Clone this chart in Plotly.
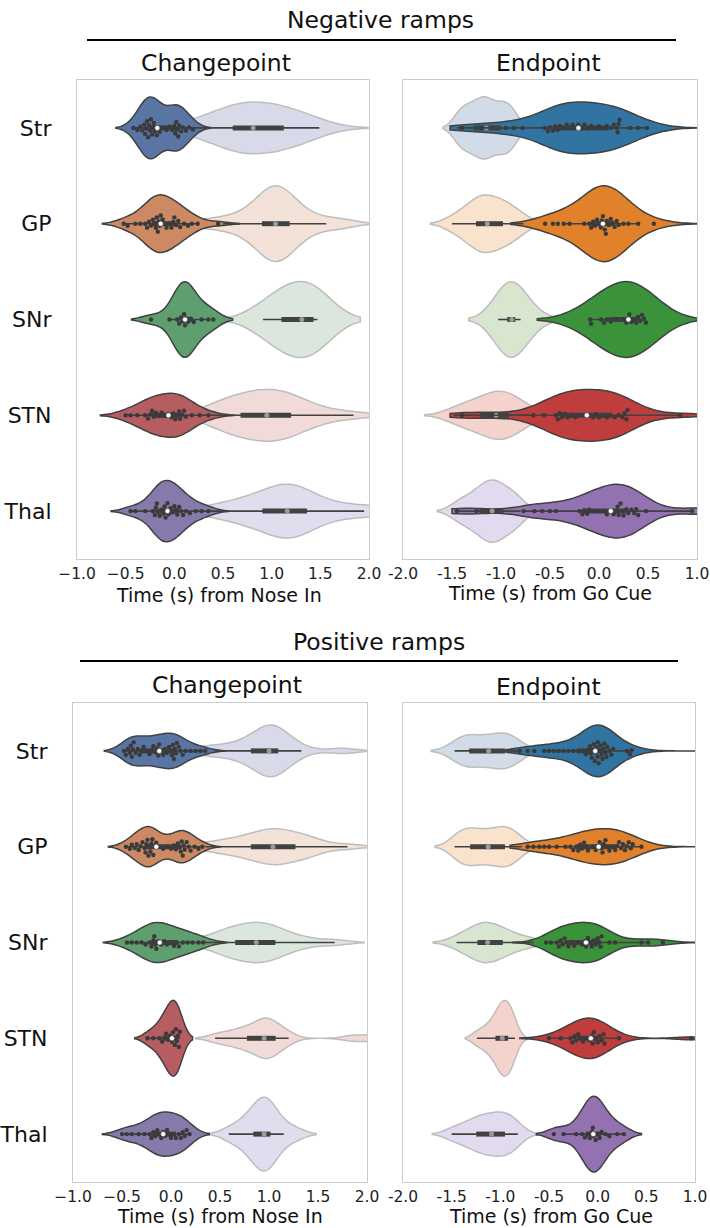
import colorsys
import numpy as np
import plotly.graph_objects as go

# ---------------- data ----------------
regions = ["Str", "GP", "SNr", "STN", "Thal"]

# Negative ramps, changepoint (s from Nose In): shown units / other epoch
neg_cp_units = [
    [-0.42, -0.38, -0.35, -0.33, -0.31, -0.30, -0.29, -0.28, -0.27, -0.26, -0.25, -0.24, -0.23, -0.22, -0.21, -0.20, -0.18, -0.17, -0.15, -0.12, -0.08, -0.05, -0.02, 0.00, 0.01, 0.02, 0.03, 0.04, 0.05, 0.07, 0.09, 0.12, 0.15, 0.19],
    [-0.52, -0.48, -0.40, -0.35, -0.30, -0.28, -0.26, -0.24, -0.22, -0.20, -0.19, -0.18, -0.17, -0.16, -0.15, -0.14, -0.12, -0.10, -0.08, -0.05, -0.03, -0.01, 0.00, 0.02, 0.04, 0.06, 0.10, 0.14, 0.18, 0.24, 0.45],
    [-0.24, -0.05, 0.03, 0.05, 0.07, 0.09, 0.10, 0.11, 0.12, 0.14, 0.17, 0.20, 0.28, 0.35, 0.40],
    [-0.50, -0.45, -0.38, -0.30, -0.27, -0.25, -0.23, -0.21, -0.19, -0.16, -0.13, -0.10, -0.06, -0.03, -0.01, 0.01, 0.03, 0.05, 0.06, 0.08, 0.10, 0.12, 0.18, 0.26, 0.35],
    [-0.45, -0.40, -0.30, -0.22, -0.20, -0.19, -0.18, -0.17, -0.15, -0.13, -0.11, -0.10, -0.09, -0.08, -0.07, -0.06, -0.04, -0.02, 0.00, 0.02, 0.03, 0.05, 0.07, 0.09, 0.12, 0.16, 0.22, 0.28, 0.35],
]
neg_cp_other = [
    [0.10, 0.25, 0.35, 0.45, 0.52, 0.55, 0.58, 0.62, 0.66, 0.70, 0.74, 0.77, 0.79, 0.81, 0.85, 0.90, 0.95, 1.00, 1.05, 1.10, 1.15, 1.18, 1.20, 1.25, 1.32, 1.40, 1.49],
    [0.30, 0.50, 0.65, 0.75, 0.82, 0.88, 0.92, 0.95, 0.98, 1.00, 1.02, 1.04, 1.05, 1.07, 1.10, 1.13, 1.17, 1.20, 1.23, 1.30, 1.40, 1.56, 1.75],
    [0.91, 0.98, 1.05, 1.08, 1.12, 1.18, 1.25, 1.31, 1.35, 1.39, 1.42, 1.44, 1.45, 1.46, 1.47],
    [0.30, 0.45, 0.55, 0.58, 0.62, 0.68, 0.75, 0.82, 0.88, 0.93, 0.95, 0.98, 1.02, 1.08, 1.15, 1.20, 1.24, 1.28, 1.40, 1.55, 1.84],
    [0.35, 0.50, 0.62, 0.72, 0.80, 0.86, 0.92, 0.98, 1.03, 1.08, 1.12, 1.15, 1.17, 1.19, 1.22, 1.26, 1.30, 1.35, 1.40, 1.48, 1.60, 1.75, 1.95, 2.10],
]
# Negative ramps, endpoint (s from Go Cue)
neg_ep_units = [
    [-1.40, -1.20, -0.95, -0.87, -0.78, -0.55, -0.52, -0.50, -0.47, -0.45, -0.42, -0.40, -0.36, -0.33, -0.30, -0.27, -0.24, -0.21, -0.18, -0.15, -0.12, -0.08, -0.04, 0.00, 0.04, 0.08, 0.12, 0.15, 0.18, 0.19, 0.20, 0.21, 0.32, 0.40, 0.49],
    [-0.55, -0.47, -0.42, -0.36, -0.30, -0.15, -0.10, -0.08, -0.06, -0.04, -0.02, 0.00, 0.02, 0.03, 0.04, 0.05, 0.06, 0.07, 0.08, 0.10, 0.12, 0.14, 0.16, 0.18, 0.20, 0.25, 0.30, 0.40, 0.56],
    [-0.09, -0.08, 0.02, 0.05, 0.08, 0.12, 0.18, 0.25, 0.28, 0.30, 0.31, 0.33, 0.36, 0.38, 0.40, 0.42, 0.44, 0.46, 0.48],
    [-1.40, -1.10, -0.67, -0.56, -0.44, -0.42, -0.40, -0.38, -0.35, -0.32, -0.28, -0.24, -0.20, -0.15, -0.10, -0.06, -0.03, 0.00, 0.04, 0.08, 0.12, 0.16, 0.20, 0.24, 0.26, 0.28, 0.29, 0.83],
    [-1.45, -1.25, -0.77, -0.66, -0.58, -0.50, -0.44, -0.20, -0.17, -0.15, -0.12, -0.10, -0.05, 0.00, 0.05, 0.08, 0.12, 0.15, 0.18, 0.19, 0.20, 0.22, 0.24, 0.25, 0.28, 0.30, 0.33, 0.36, 0.38, 0.40, 0.48, 0.95, 1.10],
]
neg_ep_other = [
    [-1.45, -1.40, -1.35, -1.30, -1.26, -1.22, -1.18, -1.15, -1.12, -1.08, -1.02, -0.98, -0.95, -0.90, -0.85],
    [-1.50, -1.40, -1.32, -1.27, -1.24, -1.20, -1.17, -1.14, -1.10, -1.05, -1.00, -0.96, -0.93, -0.85, -0.77],
    [-1.03, -0.97, -0.95, -0.92, -0.90, -0.89, -0.88, -0.86, -0.85, -0.80, -0.65],
    [-1.48, -1.40, -1.32, -1.25, -1.18, -1.12, -1.08, -1.05, -1.02, -0.98, -0.94, -0.90, -0.87, -0.80, -0.70],
    [-1.45, -1.38, -1.30, -1.24, -1.20, -1.16, -1.12, -1.09, -1.07, -1.05, -1.00, -0.95, -0.90, -0.86, -0.80],
]
# Positive ramps, changepoint
pos_cp_units = [
    [-0.48, -0.46, -0.44, -0.42, -0.41, -0.40, -0.39, -0.38, -0.36, -0.34, -0.32, -0.30, -0.28, -0.25, -0.22, -0.20, -0.18, -0.16, -0.14, -0.13, -0.12, -0.10, -0.08, -0.06, -0.04, -0.02, 0.00, 0.01, 0.02, 0.03, 0.04, 0.05, 0.06, 0.08, 0.10, 0.12, 0.15, 0.20, 0.25, 0.30, 0.35],
    [-0.46, -0.42, -0.40, -0.37, -0.35, -0.33, -0.31, -0.29, -0.27, -0.26, -0.25, -0.24, -0.23, -0.22, -0.21, -0.20, -0.19, -0.18, -0.17, -0.15, -0.12, -0.08, -0.04, 0.00, 0.03, 0.05, 0.07, 0.09, 0.10, 0.11, 0.12, 0.13, 0.14, 0.16, 0.18, 0.20, 0.24, 0.28, 0.32],
    [-0.45, -0.40, -0.35, -0.30, -0.26, -0.22, -0.20, -0.18, -0.17, -0.16, -0.15, -0.13, -0.10, -0.07, -0.04, 0.00, 0.03, 0.06, 0.08, 0.12, 0.17, 0.22, 0.28, 0.33],
    [-0.24, -0.18, -0.12, -0.09, -0.07, -0.05, -0.03, -0.01, 0.01, 0.02, 0.03, 0.04, 0.05, 0.06, 0.07, 0.08, 0.09],
    [-0.50, -0.45, -0.40, -0.33, -0.27, -0.22, -0.20, -0.18, -0.16, -0.14, -0.12, -0.10, -0.08, -0.06, -0.04, -0.02, 0.00, 0.03, 0.05, 0.08, 0.10, 0.12, 0.14, 0.16, 0.19],
]
pos_cp_other = [
    [0.30, 0.45, 0.60, 0.72, 0.78, 0.85, 0.90, 0.94, 0.97, 1.00, 1.02, 1.04, 1.06, 1.08, 1.11, 1.15, 1.22, 1.33, 1.75],
    [0.35, 0.50, 0.62, 0.72, 0.78, 0.85, 0.92, 0.98, 1.02, 1.04, 1.07, 1.12, 1.18, 1.24, 1.30, 1.36, 1.42, 1.51, 1.80],
    [0.30, 0.45, 0.55, 0.60, 0.63, 0.68, 0.74, 0.80, 0.85, 0.87, 0.90, 0.95, 1.00, 1.05, 1.08, 1.15, 1.25, 1.40, 1.67],
    [0.45, 0.55, 0.65, 0.72, 0.76, 0.82, 0.88, 0.92, 0.94, 0.96, 0.99, 1.01, 1.03, 1.08, 1.14, 1.20, 1.85, 2.05],
    [0.59, 0.70, 0.78, 0.82, 0.86, 0.90, 0.93, 0.95, 0.96, 0.98, 1.00, 1.03, 1.08, 1.15, 1.28],
]
# Positive ramps, endpoint
pos_ep_units = [
    [-0.80, -0.72, -0.65, -0.55, -0.50, -0.45, -0.40, -0.35, -0.30, -0.25, -0.20, -0.15, -0.12, -0.10, -0.08, -0.07, -0.06, -0.05, -0.04, -0.03, -0.02, -0.01, 0.00, 0.00, 0.01, 0.02, 0.03, 0.04, 0.05, 0.06, 0.07, 0.08, 0.09, 0.10, 0.12, 0.14, 0.16, 0.30, 0.33, 0.35],
    [-0.72, -0.66, -0.60, -0.55, -0.50, -0.42, -0.33, -0.28, -0.25, -0.22, -0.20, -0.18, -0.16, -0.14, -0.12, -0.10, -0.05, -0.02, 0.00, 0.02, 0.04, 0.05, 0.06, 0.08, 0.10, 0.12, 0.15, 0.18, 0.20, 0.22, 0.24, 0.26, 0.28, 0.30, 0.32, 0.34, 0.36, 0.45],
    [-0.53, -0.48, -0.42, -0.40, -0.38, -0.36, -0.34, -0.32, -0.30, -0.27, -0.24, -0.20, -0.16, -0.13, -0.12, -0.10, -0.08, -0.06, -0.04, -0.02, 0.00, 0.02, 0.03, 0.04, 0.12, 0.18, 0.45, 0.52, 0.67],
    [-0.50, -0.38, -0.28, -0.26, -0.24, -0.22, -0.20, -0.18, -0.15, -0.12, -0.08, -0.06, -0.05, -0.04, -0.02, 0.00, 0.02, 0.04, 0.06, 0.07, 0.22, 0.96],
    [-0.45, -0.35, -0.22, -0.16, -0.13, -0.10, -0.08, -0.06, -0.05, -0.04, -0.02, 0.00, 0.02, 0.04, 0.08, 0.12, 0.20, 0.27],
]
pos_ep_other = [
    [-1.47, -1.42, -1.38, -1.35, -1.32, -1.28, -1.22, -1.15, -1.12, -1.08, -1.02, -0.98, -0.95, -0.93, -0.90, -0.85, -0.78],
    [-1.47, -1.42, -1.38, -1.34, -1.30, -1.25, -1.20, -1.15, -1.10, -1.05, -1.00, -0.96, -0.93, -0.90, -0.85, -0.78],
    [-1.45, -1.38, -1.30, -1.25, -1.22, -1.18, -1.15, -1.13, -1.10, -1.05, -1.00, -0.95, -0.90, -0.80, -0.66],
    [-1.24, -1.15, -1.10, -1.05, -1.02, -1.00, -0.98, -0.96, -0.94, -0.92, -0.90, -0.88, -0.85],
    [-1.50, -1.42, -1.33, -1.27, -1.24, -1.20, -1.15, -1.10, -1.08, -1.05, -1.00, -0.96, -0.93, -0.90, -0.86, -0.82],
]

cp_ticks = [-1.0, -0.5, 0.0, 0.5, 1.0, 1.5, 2.0]
cp_ticklabels = ["\u22121.0", "\u22120.5", "0.0", "0.5", "1.0", "1.5", "2.0"]
ep_ticks = [-2.0, -1.5, -1.0, -0.5, 0.0, 0.5, 1.0]
ep_ticklabels = ["-2.0", "-1.5", "-1.0", "-0.5", "0.0", "0.5", "1.0"]

# ---------------- style ----------------
FONT = "DejaVu Sans"
W, H = 710, 1228
deep = ["#4C72B0", "#DD8452", "#55A868", "#C44E52", "#8172B3"]
tab10 = ["#1f77b4", "#ff7f0e", "#2ca02c", "#d62728", "#9467bd"]
faded_cp = ["#d8daea", "#f3e2d8", "#dbe7dc", "#f0dbd9", "#e0ddee"]
faded_ep = ["#d2dbe8", "#f9e3cd", "#d8e6d0", "#f3d3cc", "#e2dbef"]
GRAY = "#414141"
FADED_LINE = "#bdbdbd"


def desat(hexc, prop=0.75):
    r, g, b = [int(hexc[i:i + 2], 16) / 255 for i in (1, 3, 5)]
    h, l, s = colorsys.rgb_to_hls(r, g, b)
    r, g, b = colorsys.hls_to_rgb(h, l, s * prop)
    return "#%02x%02x%02x" % tuple(int(round(c * 255)) for c in (r, g, b))


def px2x(px):
    return px / W


def py2y(py):
    return 1 - py / H


panels = [
    dict(units=neg_cp_units, other=neg_cp_other, pal=deep, faded=faded_cp,
         w_u=[0.646, 0.60, 0.79, 0.46, 0.64], w_o=[0.54, 0.79, 0.79, 0.54, 0.56],
         bw_u=[0.09, 0.11, 0.10, 0.13, 0.10], bw_o=[0.25, 0.15, 0.22, 0.20, 0.20],
         span_u=[None] * 5,
         dx=(77, 369), dy=(80, 559), rng=[-1, 2], tv=cp_ticks, tt=cp_ticklabels, ylab=True),
    dict(units=neg_ep_units, other=neg_ep_other, pal=tab10, faded=faded_ep,
         w_u=[0.54, 0.79, 0.79, 0.54, 0.56], w_o=[0.65, 0.60, 0.79, 0.50, 0.65],
         bw_u=[0.22, 0.20, 0.25, 0.22, 0.20], bw_o=[0.07, 0.11, 0.15, 0.15, 0.10],
         span_u=[[-1.52, 1.3], [-0.9, 1.3], [-0.63, 1.3], [-1.52, 1.3], [-1.5, 1.3]],
         dx=(403, 697), dy=(80, 559), rng=[-2, 1], tv=ep_ticks, tt=ep_ticklabels, ylab=False),
    dict(units=pos_cp_units, other=pos_cp_other, pal=deep, faded=faded_cp,
         w_u=[0.37, 0.42, 0.42, 0.79, 0.46], w_o=[0.54, 0.375, 0.42, 0.42, 0.77],
         bw_u=[0.10, 0.09, 0.12, 0.065, 0.10], bw_o=[0.14, 0.15, 0.15, 0.10, 0.10],
         span_u=[None] * 5,
         dx=(73, 367), dy=(703, 1182), rng=[-1, 2], tv=cp_ticks, tt=cp_ticklabels, ylab=True),
    dict(units=pos_ep_units, other=pos_ep_other, pal=tab10, faded=faded_ep,
         w_u=[0.54, 0.375, 0.42, 0.42, 0.79], w_o=[0.375, 0.42, 0.42, 0.79, 0.46],
         bw_u=[0.15, 0.18, 0.15, 0.15, 0.09], bw_o=[0.12, 0.10, 0.12, 0.06, 0.10],
         span_u=[[-0.94, 1.3], [-0.9, 1.3], [-0.87, 1.3], [-0.8, 1.3], None],
         dx=(403, 695), dy=(703, 1182), rng=[-2, 1], tv=ep_ticks, tt=ep_ticklabels, ylab=False),
]


def box_stats(vals):
    v = np.asarray(vals, float)
    q1, q2, q3 = np.percentile(v, [25, 50, 75])
    lim = 1.5 * (q3 - q1)
    lo = v[v >= q1 - lim].min()
    hi = v[v <= q3 + lim].max()
    return q1, q2, q3, lo, hi


def swarm(vals, ppx, ppy, d=4.4):
    xs = np.asarray(vals, float) * ppx
    offs = np.zeros(len(xs))
    placed = []
    for i in np.argsort(xs):
        x = xs[i]
        cands = [0.0]
        for (qx, qy) in placed:
            dx = x - qx
            if abs(dx) < d:
                dy = np.sqrt(d * d - dx * dx)
                cands += [qy + dy, qy - dy]
        cands.sort(key=abs)
        for c in cands:
            if all((x - qx) ** 2 + (c - qy) ** 2 >= d * d - 1e-6 for qx, qy in placed):
                offs[i] = c
                placed.append((x, c))
                break
    return offs / ppy


fig = go.Figure()
layout = dict(width=W, height=H, margin=dict(l=0, r=0, t=0, b=0, autoexpand=False),
              paper_bgcolor="white", plot_bgcolor="white", showlegend=False,
              violinmode="overlay", font=dict(family=FONT, color="#111111"))

for k, p in enumerate(panels):
    sfx = "" if k == 0 else str(k + 1)
    xa, ya = "x" + sfx, "y" + sfx
    ppx = (p["dx"][1] - p["dx"][0]) / (p["rng"][1] - p["rng"][0])
    ppy = (p["dy"][1] - p["dy"][0]) / 5.0
    layout["xaxis" + sfx] = dict(
        domain=[px2x(p["dx"][0]), px2x(p["dx"][1])], anchor=ya, range=p["rng"],
        tickvals=p["tv"], ticktext=p["tt"], showgrid=False, zeroline=False,
        showline=True, mirror=True, linecolor="#cccccc", linewidth=1.2,
        ticks="", automargin=False,
        tickfont=dict(family=FONT, size=15.5, color="#222222"), fixedrange=True)
    layout["yaxis" + sfx] = dict(
        domain=[py2y(p["dy"][1]), py2y(p["dy"][0])], anchor=xa, range=[4.5, -0.5],
        tickvals=list(range(5)), ticktext=regions, showticklabels=p["ylab"],
        showgrid=False, zeroline=False, showline=True, mirror=True,
        linecolor="#cccccc", linewidth=1.2, ticks="outside", ticklen=20,
        tickcolor="rgba(0,0,0,0)", automargin=False,
        tickfont=dict(family=FONT, size=22, color="#111111"), fixedrange=True)

    fcols = [desat(c) for c in p["pal"]]

    def add_box(vals_list):
        wx, wy, bx, by, mx, my = [], [], [], [], [], []
        for i, vals in enumerate(vals_list):
            q1, q2, q3, lo, hi = box_stats(vals)
            wx += [lo, hi, None]; wy += [i, i, None]
            bx += [q1, q3, None]; by += [i, i, None]
            mx.append(q2); my.append(i)
        fig.add_trace(go.Scatter(x=wx, y=wy, mode="lines", line=dict(color=GRAY, width=1.6),
                                 xaxis=xa, yaxis=ya, hoverinfo="skip"))
        fig.add_trace(go.Scatter(x=bx, y=by, mode="lines", line=dict(color=GRAY, width=5),
                                 xaxis=xa, yaxis=ya, hoverinfo="skip"))
        return mx, my

    # faded (other epoch) violins
    for i, vals in enumerate(p["other"]):
        fig.add_trace(go.Violin(
            x=vals, y0=i, orientation="h", width=p["w_o"][i], scalemode="width",
            scalegroup="o%d_%d" % (k, i), bandwidth=p["bw_o"][i], spanmode="soft",
            fillcolor=p["faded"][i], line=dict(color=FADED_LINE, width=1.5),
            points=False, box_visible=False, meanline_visible=False, opacity=1,
            xaxis=xa, yaxis=ya, hoverinfo="skip"))
    mxo, myo = add_box(p["other"])
    fig.add_trace(go.Scatter(x=mxo, y=myo, mode="markers",
                             marker=dict(color="#9a9a9a", size=5, line=dict(width=0)),
                             xaxis=xa, yaxis=ya, hoverinfo="skip"))

    # main violins
    for i, vals in enumerate(p["units"]):
        sp = p["span_u"][i]
        extra = dict(spanmode="manual", span=sp) if sp else dict(spanmode="soft")
        fig.add_trace(go.Violin(
            x=vals, y0=i, orientation="h", width=p["w_u"][i], scalemode="width",
            scalegroup="u%d_%d" % (k, i), bandwidth=p["bw_u"][i],
            fillcolor=fcols[i], line=dict(color=GRAY, width=1.5),
            points=False, box_visible=False, meanline_visible=False, opacity=1,
            xaxis=xa, yaxis=ya, hoverinfo="skip", **extra))
    mxu, myu = add_box(p["units"])

    # swarm points
    sx, sy = [], []
    for i, vals in enumerate(p["units"]):
        offs = swarm(vals, ppx, ppy)
        sx += list(vals)
        sy += list(i + offs)
    fig.add_trace(go.Scatter(x=sx, y=sy, mode="markers",
                             marker=dict(color="#3a3a3a", size=4.4, line=dict(width=0)),
                             xaxis=xa, yaxis=ya, hoverinfo="skip"))
    fig.add_trace(go.Scatter(x=mxu, y=myu, mode="markers",
                             marker=dict(color="white", size=5, line=dict(color=GRAY, width=0.5)),
                             xaxis=xa, yaxis=ya, hoverinfo="skip"))

annotations = []


def ann(text, cx, cy, size):
    annotations.append(dict(text=text, x=px2x(cx), y=py2y(cy), xref="paper", yref="paper",
                            xanchor="center", yanchor="middle", showarrow=False,
                            font=dict(family=FONT, size=size, color="#111111")))


ann("Negative ramps", 381, 20, 23.5)
ann("Changepoint", 216, 63, 23.5)
ann("Endpoint", 548, 63, 23.5)
ann("Time (s) from Nose In", 219, 595, 19)
ann("Time (s) from Go Cue", 550, 593, 19)
ann("Positive ramps", 379, 642, 23.5)
ann("Changepoint", 227, 685, 23.5)
ann("Endpoint", 548, 687, 23.5)
ann("Time (s) from Nose In", 220, 1216, 19)
ann("Time (s) from Go Cue", 551, 1216, 19)

shapes = [
    dict(type="line", xref="paper", yref="paper", x0=px2x(87), x1=px2x(676),
         y0=py2y(40), y1=py2y(40), line=dict(color="black", width=2)),
    dict(type="line", xref="paper", yref="paper", x0=px2x(80), x1=px2x(678),
         y0=py2y(661), y1=py2y(661), line=dict(color="black", width=2)),
]
layout["annotations"] = annotations
layout["shapes"] = shapes
fig.update_layout(**layout)
fig.update_traces(showlegend=False)
fig.write_html("out.html")
